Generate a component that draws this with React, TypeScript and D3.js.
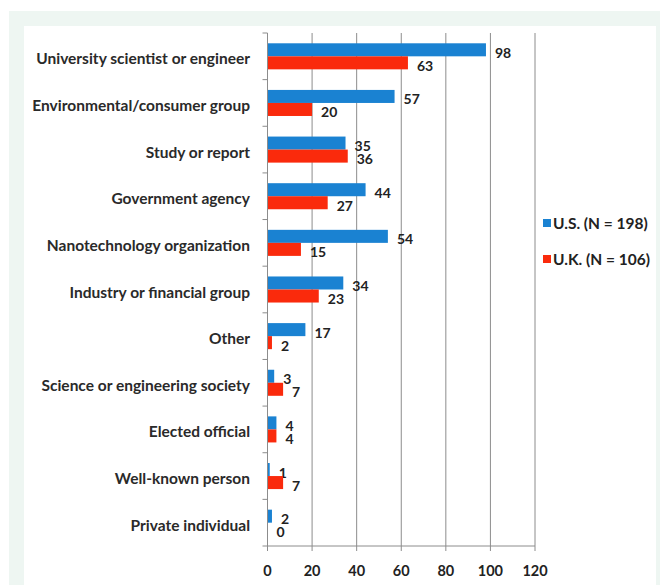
import React from "react";
import * as d3 from "d3";

const categories = [
  "University scientist or engineer",
  "Environmental/consumer group",
  "Study or report",
  "Government agency",
  "Nanotechnology organization",
  "Industry or financial group",
  "Other",
  "Science or engineering society",
  "Elected official",
  "Well-known person",
  "Private individual",
];
const usValues = [98, 57, 35, 44, 54, 34, 17, 3, 4, 1, 2];
const ukValues = [63, 20, 36, 27, 15, 23, 2, 7, 4, 7, 0];
const seriesNames = ["U.S. (N = 198)", "U.K. (N = 106)"];
const seriesColors = ["#1a82d2", "#fa2a0c"];
const xTicks = [0, 20, 40, 60, 80, 100, 120];

const W = 660;
const H = 585;
const FONT = "Lato, 'Open Sans', sans-serif";

export default function App() {
  const x = d3.scaleLinear().domain([0, 120]).range([267.5, 535]);
  const y = d3.scaleBand<string>().domain(categories).range([33, 546]).padding(0);
  const inner = d3
    .scaleBand<string>()
    .domain(["us", "uk"])
    .range([0, y.bandwidth()])
    .paddingInner(0)
    .paddingOuter(0.79);
  const series = [usValues, ukValues];
  const keys = ["us", "uk"];
  const boundaries = categories.map((c) => y(c) as number).concat([546]);

  return (
    <svg
      width={W}
      height={H}
      style={{ position: "absolute", left: 0, top: 0, display: "block" }}
    >
      <rect x={0} y={0} width={W} height={H} fill="#ffffff" />
      <rect x={9} y={11} width={W - 9} height={H - 11} fill="#eef6f2" />
      <rect x={24} y={26} width={632} height={H - 26} fill="#ffffff" />

      {/* gridlines */}
      {xTicks.slice(1).map((t) => (
        <line
          key={"g" + t}
          x1={x(t)}
          x2={x(t)}
          y1={33}
          y2={546}
          stroke="#8c8c8c"
          strokeWidth={1}
        />
      ))}

      {/* bars */}
      {categories.map((c, i) => (
        <g key={c}>
          {series.map((vals, s) => {
            const by = (y(c) as number) + (inner(keys[s]) as number);
            const bh = inner.bandwidth();
            return (
              <g key={s}>
                <rect
                  x={x(0)}
                  y={by}
                  width={x(vals[i]) - x(0)}
                  height={bh}
                  fill={seriesColors[s]}
                />
                <text
                  x={x(vals[i]) + 9}
                  y={by + bh / 2 + 8}
                  fontFamily={FONT}
                  fontWeight="bold"
                  fontSize={14}
                  fill="#222"
                >
                  {vals[i]}
                </text>
              </g>
            );
          })}
          <text
            x={250}
            y={(y(c) as number) + y.bandwidth() / 2 + 8}
            textAnchor="end"
            fontFamily={FONT}
            fontWeight="bold"
            fontSize={15.5}
            fill="#2a2a2a"
          >
            {c}
          </text>
        </g>
      ))}

      {/* axes */}
      <line x1={x(0)} x2={x(0)} y1={33} y2={546} stroke="#8c8c8c" />
      {boundaries.map((b, i) => (
        <line key={"yt" + i} x1={x(0) - 5} x2={x(0)} y1={b} y2={b} stroke="#8c8c8c" />
      ))}
      <line x1={x(0)} x2={x(120)} y1={546} y2={546} stroke="#8c8c8c" />
      {xTicks.map((t) => (
        <g key={"xt" + t}>
          <line x1={x(t)} x2={x(t)} y1={546} y2={551} stroke="#8c8c8c" />
          <text
            x={x(t)}
            y={576}
            textAnchor="middle"
            fontFamily={FONT}
            fontWeight="bold"
            fontSize={14.5}
            fill="#222"
          >
            {t}
          </text>
        </g>
      ))}

      {/* legend */}
      {seriesNames.map((n, s) => (
        <g key={n}>
          <rect x={543} y={219 + s * 36} width={8} height={8} fill={seriesColors[s]} />
          <text
            x={553}
            y={228.5 + s * 36}
            fontFamily={FONT}
            fontWeight="bold"
            fontSize={15.5}
            fill="#222"
          >
            {n}
          </text>
        </g>
      ))}
    </svg>
  );
}
